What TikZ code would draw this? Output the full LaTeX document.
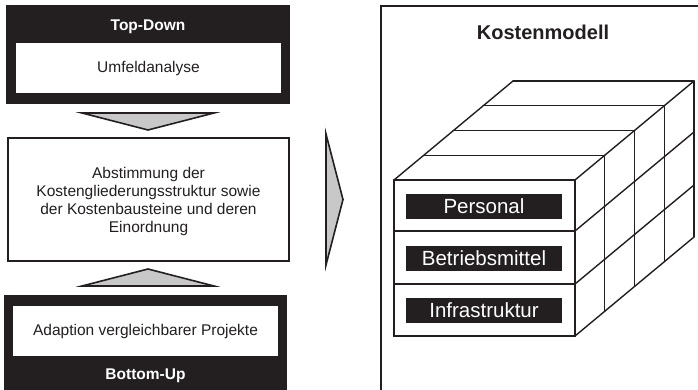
\documentclass[tikz,border=0pt]{standalone}
\usepackage{fontspec}
\setmainfont{Liberation Sans}
\definecolor{ink}{HTML}{231F20}
\definecolor{arrowgray}{HTML}{C8C8C8}
\tikzset{
  darkbox/.style={draw=none, fill=ink, inner sep=0pt},
  whitebox/.style={draw=none, fill=white, inner sep=0pt},
  framebox/.style={draw=ink, line width=1.8pt, fill=white, inner sep=0pt},
  blockarrow/.style={draw=ink, fill=arrowgray, line width=1.6pt, line join=miter},
  bodytext/.style={font=\fontsize{15.5}{18}\selectfont, text=ink, inner sep=0pt, align=center},
  headtext/.style={font=\fontsize{15.5}{18}\selectfont\bfseries, inner sep=0pt},
  tagbox/.style={fill=ink, text=white, inner sep=0pt, minimum width=156pt, minimum height=25pt,
                 font=\fontsize{20.5}{22}\selectfont},
  cubeline/.style={draw=ink, line width=1.4pt, line cap=round, line join=round},
  frontline/.style={draw=ink, line width=1.9pt, line join=miter},
}
\begin{document}
\begin{tikzpicture}[x=1pt,y=-1pt]
\clip (0,0) rectangle (698,390);

% ---- left column: top-down block ----
\node[darkbox, minimum width=284pt, minimum height=99pt] (topdown) at (148,54.5) {};
\node[headtext, text=white] (topdownlabel) at (148,26.5) {Top-Down};
\node[whitebox, minimum width=265pt, minimum height=50pt] (umfeld) at (148.5,68) {};
\node[bodytext] (umfeldtext) at (umfeld.center) {Umfeldanalyse};

% ---- left column: middle box ----
\node[framebox, minimum width=281pt, minimum height=123pt] (mid) at (148.5,199.5) {};
\node[bodytext] (midtext) at (148.5,201) {Abstimmung der\\Kostengliederungsstruktur sowie\\der Kostenbausteine und deren\\Einordnung};

% ---- left column: bottom-up block ----
\node[darkbox, minimum width=283pt, minimum height=100pt] (bottomup) at (145.5,345) {};
\node[whitebox, minimum width=265pt, minimum height=50pt] (adaption) at (145.5,331) {};
\node[bodytext] (adaptiontext) at (adaption.center) {Adaption vergleichbarer Projekte};
\node[headtext, text=white] (bottomuplabel) at (145.5,375.5) {Bottom-Up};

% ---- block arrows ----
\coordinate (dnL) at (82,113);
\coordinate (dnR) at (214,113);
\coordinate (dnT) at (148,130);
\draw[blockarrow] (dnL) -- (dnR) -- (dnT) -- cycle;
\coordinate (upL) at (82,286);
\coordinate (upR) at (214,286);
\coordinate (upT) at (148,269);
\draw[blockarrow] (upL) -- (upR) -- (upT) -- cycle;
\coordinate (rtT) at (326,134);
\coordinate (rtB) at (326,265);
\coordinate (rtP) at (343,199.5);
\draw[blockarrow] (rtT) -- (rtP) -- (rtB) -- cycle;

% ---- right panel ----
\draw[draw=ink, line width=2pt] (381,6) rectangle (720,420);
\node[headtext, text=ink, font=\fontsize{20}{22}\selectfont\bfseries] (modeltitle) at (543,32.5) {Kostenmodell};

% ---- cube: front face 394..575 x 180..336, four depth slices ----
\def\dx{29.75}
\def\dy{-24.75}
% top face: edges parallel to the front top edge
\foreach \k in {1,...,4}{
  \draw[cubeline] ({394+\k*\dx},{180+\k*\dy}) -- ({575+\k*\dx},{180+\k*\dy});
}
\draw[cubeline] (394,180) -- ({394+4*\dx},{180+4*\dy});
% side face: vertical slice lines
\foreach \k in {1,...,4}{
  \draw[cubeline] ({575+\k*\dx},{180+\k*\dy}) -- ({575+\k*\dx},{336+\k*\dy});
}
% side face: receding row lines
\foreach \y in {180,231,284,336}{
  \draw[cubeline] (575,\y) -- ({575+4*\dx},{\y+4*\dy});
}
% front face with its three rows
\draw[frontline] (394,180) rectangle (575,336);
\draw[frontline] (394,231) -- (575,231);
\draw[frontline] (394,284) -- (575,284);

% ---- row labels ----
\node[tagbox] (personal) at (484,206.5) {Personal};
\node[tagbox] (betrieb) at (484,258.5) {Betriebsmittel};
\node[tagbox] (infra) at (484,310.5) {Infrastruktur};
\end{tikzpicture}
\end{document}
